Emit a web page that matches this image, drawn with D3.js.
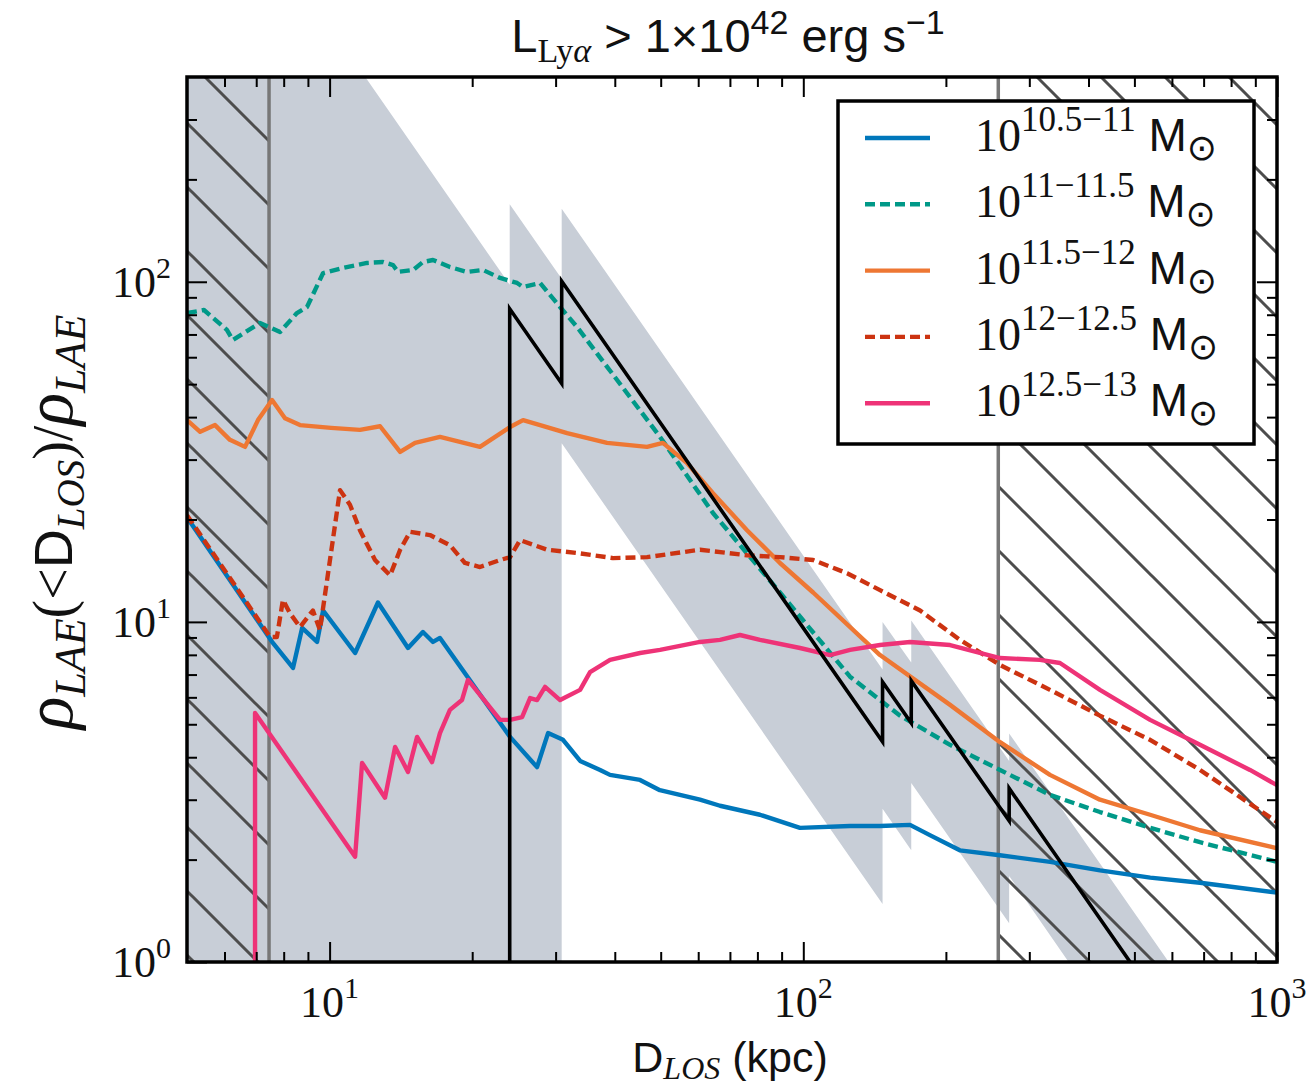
<!DOCTYPE html>
<html>
<head>
<meta charset="utf-8">
<script src="https://cdn.jsdelivr.net/npm/d3@7"></script>
<style>
  html, body { margin: 0; padding: 0; background: #fff; }
  svg { display: block; }
</style>
</head>
<body>
<div id="chart"></div>
<script>
// --- values: [D_LOS (kpc), rho(<D)/rho] ---
const massLabels = ["10.5\u221211", "11\u221211.5", "11.5\u221212", "12\u221212.5", "12.5\u221213"];
const massColors = ["#0077bb", "#009988", "#ee7733", "#cc3311", "#ee3377"];
const massDashed = [false, true, false, true, false];

const mass105 = [
  [5.0, 20.3], [7.59, 8.67], [8.37, 7.32], [8.75, 9.6], [9.41, 8.73], [9.69, 10.8],
  [11.32, 8.1], [12.65, 11.4], [14.64, 8.38], [15.74, 9.34], [16.53, 8.73], [17.1, 8.97],
  [24.04, 4.59], [27.41, 3.74], [28.92, 4.71], [31.1, 4.5], [33.8, 3.9], [37.24, 3.67],
  [39.08, 3.55], [45.22, 3.43], [49.8, 3.2], [60.52, 3.0], [66.7, 2.88], [81.0, 2.71],
  [98.4, 2.48], [125.5, 2.51], [145.2, 2.51], [168, 2.53], [185, 2.36], [214, 2.13],
  [260, 2.06], [332, 1.97], [423, 1.86], [540, 1.77], [688, 1.71], [1000, 1.6]
];
const mass11 = [
  [5.0, 80.9], [5.43, 82.6], [6.07, 72.2], [6.25, 67.4], [7.13, 75.7], [7.86, 71.2],
  [8.53, 80.9], [8.96, 84.3], [9.69, 106.1], [10.68, 109.8], [11.99, 113.6], [12.97, 114.3],
  [13.61, 112.0], [13.95, 106.9], [15.0, 108.3], [15.74, 114.3], [16.53, 115.9], [17.95, 110.5],
  [19.5, 106.9], [21.08, 108.3], [22.9, 102.6], [24.88, 99.2], [25.61, 96.5], [27.82, 99.2],
  [30.66, 84.3], [33.3, 73.6], [49.83, 35.0], [64.46, 20.9], [89.28, 12.2], [125.5, 6.9],
  [160.1, 5.3], [204.1, 4.35], [260.2, 3.67], [331.7, 3.1], [422.9, 2.76], [539.6, 2.48],
  [687.7, 2.25], [1000, 1.97]
];
const mass115 = [
  [5.0, 39.2], [5.33, 36.2], [5.73, 37.9], [6.16, 34.3], [6.63, 32.7], [7.06, 39.2],
  [7.56, 44.9], [8.05, 39.7], [8.66, 37.9], [10.07, 37.2], [11.59, 36.7], [12.78, 37.6],
  [14.09, 31.6], [15.15, 33.6], [17.1, 35.0], [20.77, 32.7], [24.04, 37.4], [25.61, 39.2],
  [27.82, 37.9], [31.72, 35.9], [38.52, 33.6], [46.79, 32.7], [50.56, 33.6], [56.83, 29.3],
  [64.46, 23.9], [76.06, 18.6], [89.28, 14.9], [104.9, 12.2], [145.2, 7.99], [204.1, 5.7],
  [260.2, 4.43], [331.7, 3.55], [422.9, 3.0], [539.6, 2.71], [687.7, 2.44], [1000, 2.16]
];
const mass12 = [
  [5.0, 20.6], [7.49, 9.03], [7.74, 9.03], [7.97, 11.6], [8.25, 10.6], [8.66, 9.66],
  [9.22, 10.8], [9.54, 9.47], [10.52, 24.4], [11.04, 22.1], [11.59, 18.6], [12.47, 15.2],
  [13.42, 13.7], [14.09, 16.3], [14.79, 18.4], [16.29, 18.0], [17.95, 16.8], [19.31, 14.9],
  [20.77, 14.5], [22.9, 15.2], [24.04, 15.5], [25.24, 17.4], [28.78, 16.3], [33.79, 15.9],
  [39.66, 15.4], [46.79, 15.5], [60.52, 16.3], [76.06, 15.7], [89.28, 15.5], [104.9, 15.2],
  [123.7, 13.9], [145.2, 12.4], [176.4, 10.8], [214.2, 8.85], [260.2, 7.47], [331.7, 6.31],
  [422.9, 5.3], [539.6, 4.5], [687.7, 3.67], [1000, 2.58]
];
const mass125 = [
  [6.96, 0.5], [6.96, 5.4], [11.32, 2.04], [11.71, 3.85], [13.09, 3.04], [13.75, 4.29],
  [14.64, 3.62], [15.3, 4.59], [16.45, 3.87], [17.1, 4.71], [17.95, 5.51], [19.03, 5.89],
  [19.59, 6.75], [22.9, 5.15], [24.04, 5.15], [25.49, 5.25], [26.5, 5.97], [27.41, 5.89],
  [28.5, 6.44], [30.66, 5.89], [33.79, 6.31], [35.47, 7.12], [39.08, 7.73], [45.22, 8.1],
  [49.83, 8.27], [60.52, 8.73], [66.7, 8.85], [73.51, 9.15], [81.01, 8.85], [98.42, 8.38],
  [113.9, 7.99], [125.5, 8.27], [145.2, 8.55], [168.0, 8.73], [204.1, 8.55], [260.2, 7.83],
  [316.0, 7.73], [348.2, 7.57], [422.9, 6.31], [539.6, 5.15], [687.7, 4.35], [876.9, 3.67],
  [1000, 3.31]
];
const massSeries = [mass105, mass11, mass115, mass12, mass125];

// black step curve (all LAEs) and its grey uncertainty band
const allLAE = [
  [24, 0.5], [24, 83.3], [30.9, 50.2], [30.9, 100.4], [147, 4.44], [147, 6.66],
  [169, 5.04], [169, 6.72], [272, 2.6], [272, 3.24], [1000, 0.24]
];
const bandUpper = [
  [5, 2270], [24, 98], [24, 169], [30.9, 102], [30.9, 164], [147, 7.25], [147, 10],
  [169, 7.6], [169, 10.1], [272, 3.9], [272, 4.7], [1000, 0.35]
];
const bandLower = [
  [1000, 0.13], [272, 1.79], [272, 1.3], [169, 3.36], [169, 2.13], [147, 2.82],
  [147, 1.48], [30.9, 33.5], [30.9, 0.01], [5, 0.01]
];

// hatched (excluded) ranges of D_LOS
const hatchRanges = [[5, 7.45], [258, 1000]];

const xMajor = [10, 100, 1000];
const xMinor = [6, 7, 8, 9, 20, 30, 40, 50, 60, 70, 80, 90, 200, 300, 400, 500, 600, 700, 800, 900];
const yMajor = [1, 10, 100];
const yMinor = [2, 3, 4, 5, 6, 7, 8, 9, 20, 30, 40, 50, 60, 70, 80, 90, 200, 300];

// --- layout ---
const W = 1312, H = 1086;
const margin = { top: 77, right: 35, bottom: 124, left: 187 };
const width = W - margin.left - margin.right,
      height = H - margin.top - margin.bottom;

const SERIF = "'Liberation Serif', 'DejaVu Serif', serif";
const SANS = "'Liberation Sans', Arial, sans-serif";

const svg = d3.select("#chart").append("svg")
  .attr("width", W).attr("height", H);

const x = d3.scaleLog().domain([5, 1000]).range([margin.left, margin.left + width]);
const y = d3.scaleLog().domain([1, 400]).range([margin.top + height, margin.top]);

const defs = svg.append("defs");
defs.append("clipPath").attr("id", "clip")
  .append("rect")
  .attr("x", margin.left).attr("y", margin.top)
  .attr("width", width).attr("height", height);

const hatch = defs.append("pattern")
  .attr("id", "hatch")
  .attr("patternUnits", "userSpaceOnUse")
  .attr("width", 64).attr("height", 64);
hatch.append("path")
  .attr("d", "M-8,-8L72,72M56,-8L136,72M-72,-8L8,72")
  .attr("stroke", "#4d4d4d")
  .attr("stroke-width", 3)
  .attr("fill", "none");

const plot = svg.append("g").attr("clip-path", "url(#clip)");

const line = d3.line().x(d => x(d[0])).y(d => y(d[1]));

// grey band
plot.append("path")
  .attr("d", line(bandUpper.concat(bandLower)) + "Z")
  .attr("fill", "#c8ced7")
  .attr("stroke", "none");

// hatched regions + boundary lines
hatchRanges.forEach((r, i) => {
  plot.append("rect")
    .attr("x", x(r[0])).attr("y", margin.top)
    .attr("width", x(r[1]) - x(r[0])).attr("height", height)
    .attr("fill", "url(#hatch)");
  const edge = i === 0 ? r[1] : r[0];
  plot.append("line")
    .attr("x1", x(edge)).attr("x2", x(edge))
    .attr("y1", margin.top).attr("y2", margin.top + height)
    .attr("stroke", "#777").attr("stroke-width", 3.5);
});

// mass-bin curves
massSeries.forEach((s, i) => {
  plot.append("path")
    .datum(s)
    .attr("d", line)
    .attr("fill", "none")
    .attr("stroke", massColors[i])
    .attr("stroke-width", 4.4)
    .attr("stroke-linejoin", "round")
    .attr("stroke-dasharray", massDashed[i] ? "10,5" : null);
});

// black step line
plot.append("path")
  .datum(allLAE)
  .attr("d", line)
  .attr("fill", "none")
  .attr("stroke", "#000")
  .attr("stroke-width", 3.6);

// --- ticks, all four sides, pointing inwards ---
function ticks(axisFn, scale, vals, size, transform) {
  const g = svg.append("g")
    .attr("transform", transform)
    .call(axisFn(scale).tickValues(vals).tickSize(-size).tickFormat(() => ""));
  g.select(".domain").remove();
  g.selectAll(".tick line").attr("stroke", "#000").attr("stroke-width", 2);
}
const bottomY = margin.top + height, rightX = margin.left + width;
ticks(d3.axisBottom, x, xMajor, 20, `translate(0,${bottomY})`);
ticks(d3.axisBottom, x, xMinor, 10, `translate(0,${bottomY})`);
ticks(d3.axisTop, x, xMajor, 20, `translate(0,${margin.top})`);
ticks(d3.axisTop, x, xMinor, 10, `translate(0,${margin.top})`);
ticks(d3.axisLeft, y, yMajor, 20, `translate(${margin.left},0)`);
ticks(d3.axisLeft, y, yMinor, 10, `translate(${margin.left},0)`);
ticks(d3.axisRight, y, yMajor, 20, `translate(${rightX},0)`);
ticks(d3.axisRight, y, yMinor, 10, `translate(${rightX},0)`);

svg.append("rect")
  .attr("x", margin.left).attr("y", margin.top)
  .attr("width", width).attr("height", height)
  .attr("fill", "none").attr("stroke", "#000").attr("stroke-width", 3.5);

// rich text helper: parts = [{t, f, s, i, up}]
function rich(textSel, parts) {
  let cur = 0;
  parts.forEach(p => {
    const up = p.up || 0;
    const ts = textSel.append("tspan")
      .attr("font-family", p.f)
      .attr("font-size", p.s)
      .attr("dy", cur - up)
      .text(p.t);
    if (p.i) ts.attr("font-style", "italic");
    cur = up;
  });
  return textSel;
}

// tick labels
xMajor.forEach(v => {
  const t = svg.append("text")
    .attr("x", x(v)).attr("y", 1017)
    .attr("text-anchor", "middle").attr("fill", "#111");
  rich(t, [
    { t: "10", f: SERIF, s: 44 },
    { t: String(Math.round(Math.log10(v))), f: SERIF, s: 30, up: 19 }
  ]);
});
yMajor.forEach(v => {
  const t = svg.append("text")
    .attr("x", 171).attr("y", y(v) + 15)
    .attr("text-anchor", "end").attr("fill", "#111");
  rich(t, [
    { t: "10", f: SERIF, s: 44 },
    { t: String(Math.round(Math.log10(v))), f: SERIF, s: 30, up: 19 }
  ]);
});

// axis labels
rich(svg.append("text")
  .attr("x", 730).attr("y", 1072)
  .attr("text-anchor", "middle").attr("fill", "#111"), [
  { t: "D", f: SANS, s: 43 },
  { t: "LOS", f: SERIF, s: 32, i: true, up: -7 },
  { t: " (kpc)", f: SANS, s: 43 }
]);

rich(svg.append("text")
  .attr("transform", "translate(72,522) rotate(-90)")
  .attr("text-anchor", "middle").attr("fill", "#111"), [
  { t: "\u03c1", f: SERIF, s: 68, i: true },
  { t: "LAE", f: SERIF, s: 44, i: true, up: -13 },
  { t: "(<", f: SERIF, s: 56 },
  { t: "D", f: SANS, s: 54 },
  { t: "LOS", f: SERIF, s: 39, i: true, up: -12 },
  { t: ")/", f: SERIF, s: 56 },
  { t: "\u03c1", f: SERIF, s: 68, i: true },
  { t: "LAE", f: SERIF, s: 44, i: true, up: -13 }
]);

// title
rich(svg.append("text")
  .attr("x", 728).attr("y", 52)
  .attr("text-anchor", "middle").attr("fill", "#111"), [
  { t: "L", f: SANS, s: 47 },
  { t: "Ly", f: SERIF, s: 34, up: -10 },
  { t: "\u03b1", f: SERIF, s: 34, i: true, up: -10 },
  { t: " > 1\u00d710", f: SANS, s: 47 },
  { t: "42", f: SANS, s: 34, up: 18 },
  { t: " erg s", f: SANS, s: 47 },
  { t: "\u22121", f: SANS, s: 34, up: 18 }
]);

// legend
const leg = svg.append("g");
leg.append("rect")
  .attr("x", 838).attr("y", 101)
  .attr("width", 416).attr("height", 343)
  .attr("fill", "#fff").attr("stroke", "#000").attr("stroke-width", 3.5);
massLabels.forEach((lab, i) => {
  const base = 151 + i * 66.3;
  leg.append("line")
    .attr("x1", 865).attr("x2", 930)
    .attr("y1", base - 13).attr("y2", base - 13)
    .attr("stroke", massColors[i]).attr("stroke-width", 4.4)
    .attr("stroke-dasharray", massDashed[i] ? "10,5" : null);
  rich(leg.append("text").attr("x", 975).attr("y", base).attr("fill", "#111"), [
    { t: "10", f: SERIF, s: 46 },
    { t: lab, f: SERIF, s: 35, up: 20 },
    { t: " M", f: SANS, s: 46 },
    { t: "\u2299", f: "'DejaVu Sans', sans-serif", s: 36, up: -9 }
  ]);
});
</script>
</body>
</html>
